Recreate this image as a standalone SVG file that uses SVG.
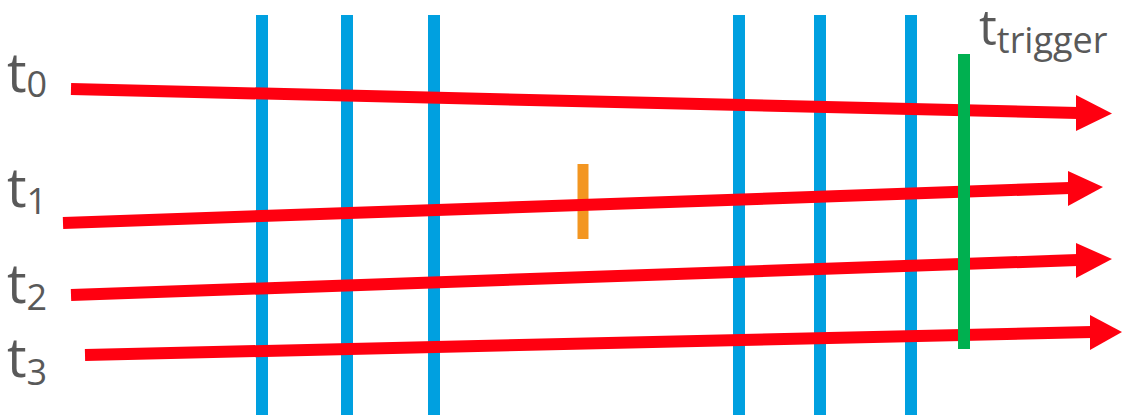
<svg xmlns="http://www.w3.org/2000/svg" width="1122" height="415" viewBox="0 0 1122 415">
<style>
.bl{stroke:#00A0E0;stroke-width:12;fill:none}
.gr{stroke:#00B050;stroke-width:12;fill:none}
.or{stroke:#F39621;stroke-width:11;fill:none}
.rl{stroke:#FF0010;stroke-width:12;fill:none}
.rh{fill:#FF0010}
.lbl{font-family:"Open Sans","Noto Sans",sans-serif;font-size:55px;fill:#595959}
.sub{font-size:36px}
.trg{font-size:50px}
</style>
<rect width="1122" height="415" fill="#fff"/>
<g id="blue-lines">
<line class="bl" x1="262" y1="15" x2="262" y2="415"/>
<line class="bl" x1="347" y1="15" x2="347" y2="415"/>
<line class="bl" x1="434" y1="15" x2="434" y2="415"/>
<line class="bl" x1="739" y1="15" x2="739" y2="415"/>
<line class="bl" x1="820" y1="15" x2="820" y2="415"/>
<line class="bl" x1="911" y1="15" x2="911" y2="415"/>
</g>
<g id="orange-mark"><line class="or" x1="583" y1="164" x2="583" y2="239"/></g>
<g id="connectors">
<line class="rl" x1="71" y1="89" x2="1078" y2="113"/>
<polygon class="rh" points="1076,95 1112,113.5 1076,131"/>
<line class="rl" x1="63" y1="223" x2="1070" y2="188"/>
<polygon class="rh" points="1068,171 1103,187 1068,206"/>
<line class="rl" x1="71" y1="295" x2="1078" y2="260"/>
<polygon class="rh" points="1076,243 1112,259 1076,278"/>
<line class="rl" x1="85" y1="355" x2="1092" y2="332"/>
<polygon class="rh" points="1090,315 1122,332 1090,350"/>
</g>
<g id="trigger"><line class="gr" x1="964" y1="54" x2="964" y2="349"/></g>
<g id="label-t0"><text class="lbl" x="7" y="92">t<tspan class="sub" dy="5">0</tspan></text></g>
<g id="label-t1"><text class="lbl" x="7" y="207">t<tspan class="sub" dy="7">1</tspan></text></g>
<g id="label-t2"><text class="lbl" x="7" y="303">t<tspan class="sub" dy="7">2</tspan></text></g>
<g id="label-t3"><text class="lbl" x="7" y="377">t<tspan class="sub" dy="8">3</tspan></text></g>
<g id="label-trigger"><text class="lbl trg" x="979" y="45">t<tspan class="sub" dy="8">trigger</tspan></text></g>
</svg>
